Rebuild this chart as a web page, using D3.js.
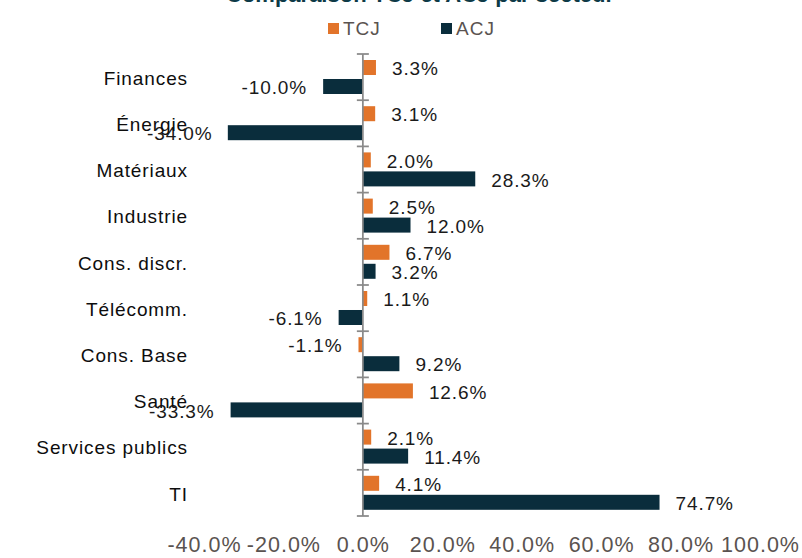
<!DOCTYPE html>
<html>
<head>
<meta charset="utf-8">
<script src="https://cdn.jsdelivr.net/npm/d3@7"></script>
<style>
  body { margin: 0; background: #fff; }
  svg { display: block; font-family: "Liberation Sans", Arial, sans-serif; }
  .cat { font-size: 19px; letter-spacing: 0.9px; fill: #0d0d0d; }
  .val { font-size: 19px; letter-spacing: 0.9px; fill: #1a1a1a; }
  .tick text { font-size: 21.5px; letter-spacing: 1px; fill: #5a5350; }
  .legend text { font-size: 19px; letter-spacing: 1px; fill: #5a5350; }
</style>
</head>
<body>
<svg id="chart"></svg>
<script>
/* global d3 */

var categories = ["Finances", "Énergie", "Matériaux", "Industrie", "Cons. discr.",
  "Télécomm.", "Cons. Base", "Santé", "Services publics", "TI"];
var series = ["TCJ", "ACJ"];
var tcj = [3.3, 3.1, 2.0, 2.5, 6.7, 1.1, -1.1, 12.6, 2.1, 4.1];
var acj = [-10.0, -34.0, 28.3, 12.0, 3.2, -6.1, 9.2, -33.3, 11.4, 74.7];
var xTicks = [-40, -20, 0, 20, 40, 60, 80, 100];
var title = "Comparaison TCJ et ACJ par secteur";

var width = 802,
  height = 558,
  colors = { TCJ: "#e2742a", ACJ: "#0a2d3c" },
  plotLeft = 147,
  fmt = function (d) { return d.toFixed(1) + "%"; };

var svg = d3.select("#chart")
  .attr("width", width)
  .attr("height", height);

var rows = categories.map(function (c, i) {
  return { cat: c, TCJ: tcj[i], ACJ: acj[i] };
});

var x = d3.scaleLinear()
  .domain([-40, 100])
  .range([204, 760]);

var y = d3.scaleBand()
  .domain(categories)
  .range([54, 516])
  .padding(0);

var y1 = d3.scaleBand()
  .domain(series)
  .range([6, 40])
  .paddingInner(0.21);

// title, mostly cut off by the top edge
svg.append("text")
  .attr("x", 420)
  .attr("y", 1.5)
  .attr("text-anchor", "middle")
  .style("font-size", "22px")
  .style("font-weight", "bold")
  .style("fill", "#0e3a47")
  .text(title);

// legend
var legend = svg.append("g")
  .attr("class", "legend");
var legendX = { TCJ: 328, ACJ: 441 };
series.forEach(function (s) {
  legend.append("rect")
    .attr("x", legendX[s])
    .attr("y", 23)
    .attr("width", 11)
    .attr("height", 11)
    .style("fill", colors[s]);
  legend.append("text")
    .attr("x", legendX[s] + 15)
    .attr("y", 35)
    .text(s);
});

// bars
var groups = svg.selectAll(".row")
  .data(rows)
  .enter().append("g")
  .attr("class", "row")
  .attr("transform", function (d) { return "translate(0," + y(d.cat) + ")"; });

groups.selectAll("rect")
  .data(function (d) { return series.map(function (s) { return { key: s, value: d[s] }; }); })
  .enter().append("rect")
  .attr("x", function (d) { return x(Math.min(0, d.value)); })
  .attr("y", function (d) { return y1(d.key); })
  .attr("width", function (d) { return Math.abs(x(d.value) - x(0)); })
  .attr("height", y1.bandwidth())
  .style("fill", function (d) { return colors[d.key]; });

// value labels, pushed back inside the plot when they would overflow
groups.selectAll(".val")
  .data(function (d) { return series.map(function (s) { return { key: s, value: d[s] }; }); })
  .enter().append("text")
  .attr("class", "val")
  .attr("y", function (d) { return y1(d.key) + y1.bandwidth() / 2 + 1; })
  .attr("dy", "0.35em")
  .text(function (d) { return fmt(d.value); })
  .each(function (d) {
    var t = d3.select(this);
    if (d.value >= 0) {
      t.attr("x", x(d.value) + 16);
    } else {
      var w = this.getComputedTextLength();
      var left = Math.max(plotLeft, x(d.value) - 16 - w);
      t.attr("x", left);
    }
  });

// category labels
svg.selectAll(".cat")
  .data(categories)
  .enter().append("text")
  .attr("class", "cat")
  .attr("x", 188)
  .attr("y", function (d) { return y(d) + y.bandwidth() / 2 + 1; })
  .attr("dy", "0.35em")
  .attr("text-anchor", "end")
  .text(function (d) { return d; });

// vertical axis at zero with ticks between categories
var yAxis = svg.append("g")
  .attr("class", "y-axis");
yAxis.append("line")
  .attr("x1", x(0))
  .attr("x2", x(0))
  .attr("y1", y.range()[0])
  .attr("y2", y.range()[1])
  .style("stroke", "#8a8a8a")
  .style("stroke-width", 1.75);
yAxis.selectAll(".ytick")
  .data(categories.map(function (c) { return y(c); }).concat([y.range()[1]]))
  .enter().append("line")
  .attr("class", "ytick")
  .attr("x1", x(0) - 6)
  .attr("x2", x(0) + 6)
  .attr("y1", function (d) { return d; })
  .attr("y2", function (d) { return d; })
  .style("stroke", "#8a8a8a")
  .style("stroke-width", 1.75);

// horizontal axis: labels only
var xAxis = d3.axisBottom(x)
  .tickValues(xTicks)
  .tickSize(0)
  .tickPadding(0)
  .tickFormat(fmt);

svg.append("g")
  .attr("class", "x-axis")
  .attr("transform", "translate(0,537)")
  .call(xAxis)
  .call(function (g) { g.select(".domain").remove(); })
  .selectAll("text")
  .attr("dy", "0.71em")
  .style("font-family", "\"Liberation Sans\", Arial, sans-serif");
</script>
</body>
</html>
